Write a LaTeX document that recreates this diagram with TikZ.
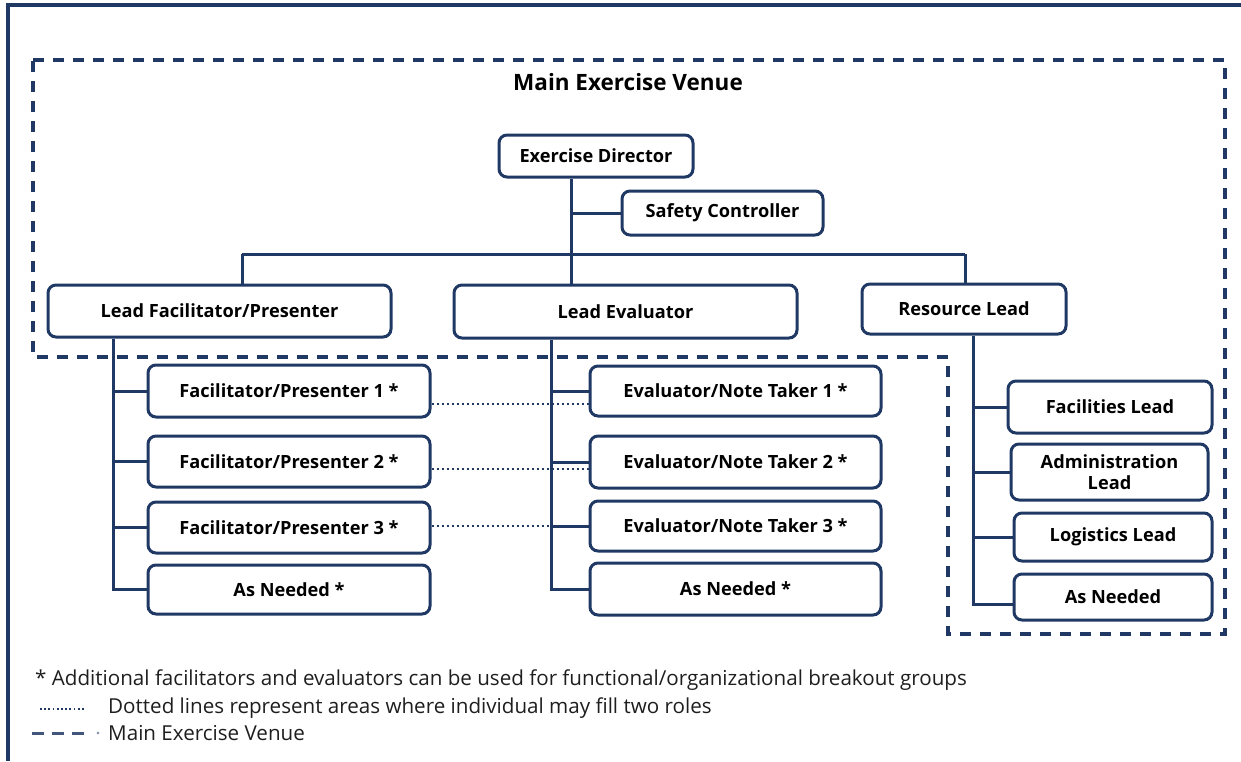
\documentclass[tikz,border=0pt]{standalone}
\usepackage{fontspec}
\setmainfont{Open Sans}
\usetikzlibrary{calc}
\definecolor{navy}{RGB}{31,56,100}
\definecolor{legtxt}{RGB}{30,30,30}
\tikzset{
  box/.style={draw=navy, line width=3pt, rounded corners=8pt, fill=white, inner sep=0pt,
    align=center, font=\fontsize{18.2}{22}\selectfont\bfseries, text=black},
  conn/.style={draw=navy, line width=3pt},
  dotconn/.style={draw=navy, line width=2.8pt, dash pattern=on 2.4pt off 2.6pt},
  venue/.style={draw=navy, line width=3.4pt, dash pattern=on 11pt off 9pt},
  legend/.style={anchor=west, inner sep=0pt, font=\fontsize{20.6}{24}\selectfont, text=legtxt},
}
\begin{document}
\begin{tikzpicture}[x=1pt,y=-1pt]
\useasboundingbox (0,0) rectangle (1241,761);
% outer frame
\draw[draw=navy, line width=3.2pt] (8,761) -- (8,5) -- (1241,5);
% venue outline
\draw[venue] (33,60) -- (1225,60) -- (1225,634) -- (948,634) -- (948,357) -- (33,357) -- cycle;
\node[font=\fontsize{22.5}{26}\selectfont\bfseries, text=black] (title) at (628,82) {Main Exercise Venue};

% nodes
\node[box, minimum width=194pt, minimum height=42pt] (ED) at (596,156) {Exercise Director};
\node[box, minimum width=201pt, minimum height=44pt] (SC) at (722.5,213) {Safety Controller};
\node[box, minimum width=343pt, minimum height=52pt] (LFP) at (219.5,311) {Lead Facilitator/Presenter};
\node[box, minimum width=343pt, minimum height=53pt] (LE) at (625.5,311.5) {Lead Evaluator};
\node[box, minimum width=204pt, minimum height=50pt] (RL) at (964,309) {Resource Lead};

\node[box, minimum width=282pt, minimum height=52pt] (FP1) at (289,391) {Facilitator/Presenter 1 *};
\node[box, minimum width=282pt, minimum height=51pt] (FP2) at (289,461.5) {Facilitator/Presenter 2 *};
\node[box, minimum width=282pt, minimum height=51pt] (FP3) at (289,527.5) {Facilitator/Presenter 3 *};
\node[box, minimum width=282pt, minimum height=49pt] (AN1) at (289,589.5) {As Needed *};

\node[box, minimum width=291pt, minimum height=50pt] (E1) at (735.5,391) {Evaluator/Note Taker 1 *};
\node[box, minimum width=291pt, minimum height=52pt] (E2) at (735.5,462) {Evaluator/Note Taker 2 *};
\node[box, minimum width=291pt, minimum height=50pt] (E3) at (735.5,526) {Evaluator/Note Taker 3 *};
\node[box, minimum width=291pt, minimum height=52pt] (AN2) at (735.5,589) {As Needed *};

\node[box, minimum width=204pt, minimum height=52pt] (FL) at (1110,407) {Facilities Lead};
\node[box, minimum width=197pt, minimum height=56pt] (AL) at (1109.5,472) {Administration\\[-1pt]Lead};
\node[box, minimum width=198pt, minimum height=48pt] (LL) at (1113,537) {Logistics Lead};
\node[box, minimum width=198pt, minimum height=46pt] (AN3) at (1113,597) {As Needed};

% trunk coordinates
\coordinate (tED) at (571,0);
\coordinate (bar) at (0,254);
\coordinate (tL) at (113,0);
\coordinate (tM) at (551,0);
\coordinate (tR) at (973,0);
\coordinate (lfpx) at (242,0);
\coordinate (rlx) at (965,0);
\coordinate (an3y) at (0,604);
\coordinate (d1) at (0,404);
\coordinate (d2) at (0,469);
\coordinate (d3) at (0,526);

% connectors
\draw[conn] (ED.south -| tED) -- (LE.north -| tED);
\draw[conn] (SC.west -| tED) -- (SC.west);
\draw[conn] (bar -| lfpx) -- (bar -| rlx);
\draw[conn] (bar -| lfpx) -- (LFP.north -| lfpx);
\draw[conn] (bar -| rlx) -- (RL.north -| rlx);

\draw[conn] (LFP.south -| tL) -- (AN1.west -| tL) -- (AN1.west);
\draw[conn] (FP1.west -| tL) -- (FP1.west);
\draw[conn] (FP2.west -| tL) -- (FP2.west);
\draw[conn] (FP3.west -| tL) -- (FP3.west);

\draw[conn] (LE.south -| tM) -- (AN2.west -| tM) -- (AN2.west);
\draw[conn] (E1.west -| tM) -- (E1.west);
\draw[conn] (E2.west -| tM) -- (E2.west);
\draw[conn] (E3.west -| tM) -- (E3.west);

\draw[conn] (RL.south -| tR) -- (an3y -| tR) -- (an3y -| AN3.west);
\draw[conn] (FL.west -| tR) -- (FL.west);
\draw[conn] (AL.west -| tR) -- (AL.west);
\draw[conn] (LL.west -| tR) -- (LL.west);

% dotted dual-role links
\draw[dotconn] (d1 -| FP1.east) -- (d1 -| E1.west);
\draw[dotconn] (d2 -| FP2.east) -- (d2 -| E2.west);
\draw[dotconn] (d3 -| FP3.east) -- (d3 -| E3.west);

% legend
\node[legend] (leg1) at (35,680) {* Additional facilitators and evaluators can be used for functional/organizational breakout groups};
\coordinate (ld1) at (40,709);
\coordinate (ld2) at (86,709);
\draw[draw=navy, line width=2.6pt, dash pattern=on 1.8pt off 2.4pt] (ld1) -- (ld2);
\node[legend] (leg2) at (108,708) {Dotted lines represent areas where individual may fill two roles};
\coordinate (lv1) at (32,733);
\coordinate (lv2) at (86,733);
\draw[draw=navy!85, line width=3pt, dash pattern=on 12pt off 8pt] (lv1) -- (lv2);
\fill[navy!60] (98,733) circle (1.3pt);
\node[legend] (leg3) at (108,733) {Main Exercise Venue};
\end{tikzpicture}
\end{document}
